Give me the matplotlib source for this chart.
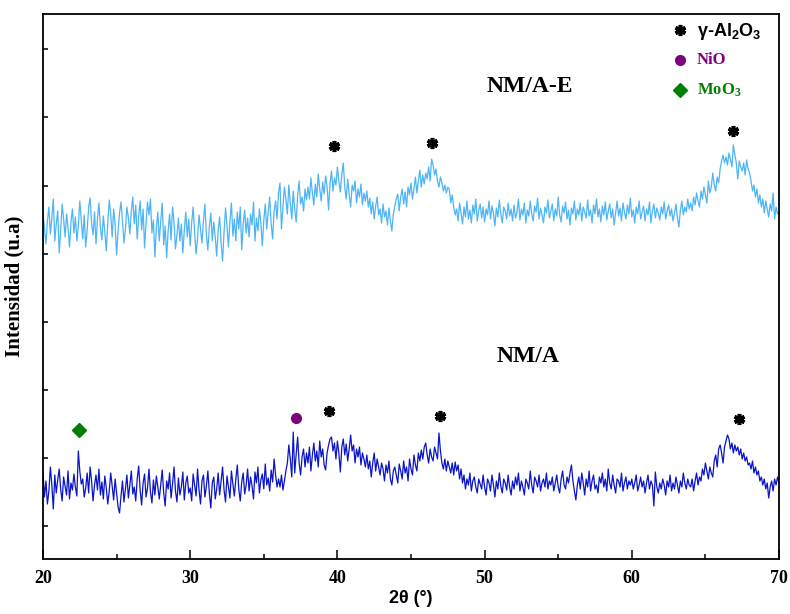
import numpy as np
import matplotlib
matplotlib.use("Agg")
import matplotlib.pyplot as plt
from matplotlib.lines import Line2D

plt.rcParams['mathtext.fontset'] = 'custom'
plt.rcParams['mathtext.rm'] = 'Liberation Sans:bold'
plt.rcParams['mathtext.bf'] = 'Liberation Serif:bold'
plt.rcParams['mathtext.it'] = 'Liberation Sans:bold'

# ---------------- data ----------------
two_theta = np.round(np.arange(20.0, 70.0001, 0.1), 1)

nma_e = [
    346, 330, 315, 338, 352, 325, 341, 360, 318, 335, 348, 306, 328, 355, 340, 322, 345, 331, 312, 337,
    350, 326, 342, 318, 333, 358, 339, 320, 344, 312, 329, 352, 361, 336, 324, 347, 315, 340, 356, 331,
    319, 343, 327, 308, 336, 359, 345, 322, 350, 334, 304, 328, 346, 357, 338, 316, 330, 352, 341, 325,
    348, 362, 335, 354, 320, 343, 358, 329, 350, 311, 336, 357, 344, 360, 326, 339, 302, 331, 347, 318,
    338, 356, 314, 333, 301, 328, 345, 319, 352, 337, 310, 324, 341, 318, 335, 306, 329, 347, 322, 340,
    313, 336, 352, 327, 305, 321, 344, 330, 316, 338, 355, 324, 309, 332, 346, 318, 337, 322, 303, 329,
    342, 316, 298, 327, 351, 334, 312, 338, 356, 323, 340, 318, 347, 330, 352, 309, 335, 349, 326, 341,
    322, 345, 334, 357, 318, 341, 328, 350, 336, 313, 339, 355, 330, 347, 362, 335, 320, 348, 358, 340,
    366, 376, 330, 352, 372, 360, 345, 374, 356, 340, 368, 350, 337, 364, 378, 355, 362, 348, 370, 359,
    372, 360, 381, 366, 354, 375, 362, 385, 370, 358, 377, 365, 383, 372, 349, 376, 388, 368, 381, 374,
    392, 378, 367, 385, 396, 372, 360, 380, 365, 352, 374, 368, 378, 356, 370, 362, 375, 354, 366, 358,
    368, 352, 361, 345, 357, 340, 353, 362, 344, 350, 336, 355, 342, 348, 334, 351, 338, 328, 345, 353,
    360, 365, 348, 362, 370, 355, 367, 352, 372, 364, 376, 360, 370, 382, 366, 378, 389, 372, 384, 375,
    386, 380, 392, 378, 400, 394, 384, 390, 378, 372, 382, 376, 368, 374, 366, 372, 370, 356, 364, 352,
    344, 350, 338, 356, 346, 335, 352, 342, 358, 340, 349, 336, 354, 345, 360, 338, 348, 355, 341, 352,
    337, 350, 344, 358, 340, 353, 346, 333, 351, 342, 359, 345, 336, 352, 348, 340, 356, 343, 350, 338,
    354, 341, 347, 360, 339, 350, 344, 356, 336, 349, 343, 358, 345, 338, 353, 347, 361, 340, 351, 344,
    336, 352, 346, 359, 341, 348, 355, 338, 350, 343, 362, 344, 337, 353, 346, 357, 340, 349, 334, 351,
    345, 358, 339, 350, 344, 356, 338, 352, 347, 341, 359, 343, 349, 336, 354, 345, 360, 342, 350, 337,
    353, 344, 357, 339, 348, 355, 341, 350, 334, 346, 358, 343, 351, 338, 356, 347, 340, 354, 345, 361,
    342, 349, 336, 352, 345, 358, 340, 347, 353, 338, 350, 344, 357, 336, 348, 355, 341, 351, 346, 339,
    352, 345, 357, 340, 348, 354, 343, 350, 338, 346, 355, 341, 332, 349, 358, 344, 352, 347, 360, 350,
    356, 348, 362, 354, 366, 358, 352, 368, 360, 372, 364, 356, 378, 366, 372, 386, 374, 368, 382, 376,
    390, 398, 404, 396, 402, 394, 406, 400, 392, 414, 404, 396, 380, 398, 392, 388, 396, 384, 399, 390,
    386, 378, 368, 374, 362, 370, 356, 364, 352, 360, 346, 358, 350, 342, 355, 348, 366, 340, 352, 345,
    348,
]

nma = [
    86, 62, 78, 55, 68, 92, 74, 50, 84, 66, 79, 90, 70, 58, 82, 73, 64, 88, 60, 76,
    69, 85, 72, 63, 108, 88, 75, 80, 62, 71, 86, 66, 92, 78, 58, 74, 84, 69, 90, 64,
    77, 60, 83, 71, 55, 68, 86, 73, 59, 80, 66, 52, 46, 63, 78, 57, 70, 84, 61, 74,
    88, 65, 72, 58, 80, 93, 69, 54, 76, 85, 62, 71, 90, 67, 56, 79, 64, 83, 72, 60,
    74, 89, 66, 53, 78, 70, 86, 61, 75, 92, 68, 57, 81, 64, 72, 87, 59, 76, 83, 66,
    71, 58, 85, 74, 63, 90, 69, 55, 78, 84, 62, 73, 88, 66, 51, 76, 82, 60, 70, 86,
    64, 78, 92, 69, 57, 83, 72, 61, 88, 75, 63, 80, 94, 70, 58, 77, 86, 65, 74, 90,
    68, 82, 73, 60, 87, 76, 92, 66, 79, 85, 70, 95, 74, 81, 68, 89, 77, 100, 84, 72,
    80, 72, 84, 69, 78, 88, 96, 114, 100, 82, 127, 86, 105, 122, 96, 84, 102, 110, 92, 106,
    96, 112, 88, 104, 116, 98, 108, 92, 118, 102, 110, 94, 89, 106, 114, 120, 122, 108, 116, 100,
    118, 106, 87, 112, 120, 104, 115, 98, 110, 124, 108, 114, 96, 110, 102, 112, 94, 106, 100, 92,
    104, 90, 98, 82, 96, 106, 88, 100, 92, 84, 96, 90, 78, 94, 86, 98, 80, 74, 88, 92,
    84, 76, 95, 88, 80, 98, 86, 92, 78, 100, 90, 84, 104, 94, 88, 106, 98, 109, 100, 112,
    116, 104, 96, 110, 102, 98, 112, 106, 100, 126, 108, 96, 90, 100, 88, 98, 92, 86, 96, 84,
    97, 88, 94, 80, 90, 76, 84, 70, 80, 74, 86, 68, 78, 82, 72, 66, 80, 75, 70, 84,
    72, 64, 80, 76, 68, 84, 74, 62, 78, 70, 86, 73, 66, 80, 76, 69, 84, 72, 64, 78,
    70, 82, 74, 86, 68, 78, 72, 64, 80, 76, 70, 88, 74, 66, 82, 78, 72, 84, 68, 76,
    80, 72, 86, 70, 78, 74, 82, 68, 76, 84, 72, 66, 80, 88, 74, 70, 82, 76, 86, 94,
    78, 68, 59, 74, 82, 70, 86, 76, 64, 80, 72, 88, 68, 78, 84, 70, 74, 66, 82, 76,
    86, 72, 80, 68, 90, 76, 70, 84, 74, 66, 80, 78, 72, 86, 68, 76, 82, 70, 78, 74,
    80, 70, 76, 84, 68, 74, 82, 72, 78, 66, 76, 84, 70, 78, 74, 53, 87, 72, 66, 76,
    70, 80, 74, 64, 78, 72, 84, 68, 76, 70, 82, 74, 66, 78, 72, 86, 76, 70, 80, 74,
    72, 80, 68, 78, 86, 74, 82, 78, 90, 84, 96, 88, 80, 92, 86, 82, 98, 104, 92, 110,
    114, 106, 96, 112, 118, 124, 120, 110, 116, 106, 114, 108, 112, 104, 110, 100, 106, 98, 102, 94,
    96, 90, 98, 86, 92, 84, 88, 78, 82, 74, 80, 70, 76, 61, 72, 78, 68, 80, 74, 82,
    76,
]

# phase markers (2theta position, marker height)
e_al2o3_x = [39.8, 46.4, 66.9]
e_al2o3_y = [413, 416, 428]
a_al2o3_x = [39.4, 47.0, 67.3]
a_al2o3_y = [148, 143, 140]
a_nio_x = [37.2]
a_nio_y = [141]
a_moo3_x = [22.45]
a_moo3_y = [129]

series_labels = ["NM/A-E", "NM/A"]
label_pos_x = [53.1, 52.95]
label_pos_y = [473, 202]

x_ticks = [20, 30, 40, 50, 60, 70]

# ---------------- figure ----------------
c_light = '#4db5f7'
c_dark = '#0a14c8'
c_purple = '#800080'
c_green = '#008000'

fig = plt.figure(figsize=(7.9, 6.14), dpi=100)
ax = fig.add_axes([43/790, 55/614, 736/790, 545/614])

ax.plot(two_theta, nma_e, color=c_light, lw=0.9)
ax.plot(two_theta, nma, color=c_dark, lw=0.9)

star_kw = dict(marker=(6, 2, 0), color='black', markersize=8, markeredgewidth=2.6, linestyle='none')
ax.plot(e_al2o3_x, e_al2o3_y, **star_kw)
ax.plot(a_al2o3_x, a_al2o3_y, **star_kw)
ax.plot(a_nio_x, a_nio_y, marker='o', color=c_purple, markersize=7, linestyle='none')
ax.plot(a_moo3_x, a_moo3_y, marker='D', color=c_green, markersize=7.5, linestyle='none')

for lab, lx, ly in zip(series_labels, label_pos_x, label_pos_y):
    ax.text(lx, ly, lab, ha='center', va='center', fontsize=17,
            fontweight='bold', family='Liberation Serif')

ax.set_xlim(20, 70)
ax.set_ylim(0, 545)
ax.set_xticks(x_ticks)
ax.set_xticks(np.arange(25, 70, 10), minor=True)
ax.set_yticks(33 + 68.1 * np.arange(8))
ax.set_yticklabels([])
ax.tick_params(axis='x', which='major', direction='in', length=6.5, width=1.1, pad=8)
ax.tick_params(axis='x', which='minor', direction='in', length=3.5, width=1.1)
ax.tick_params(axis='y', which='major', direction='in', length=3.5, width=1.1)
for lbl in ax.get_xticklabels():
    lbl.set_fontfamily('Liberation Serif')
    lbl.set_fontweight('bold')
    lbl.set_fontsize(13)
for sp in ax.spines.values():
    sp.set_linewidth(1.3)

ax.set_xlabel('2θ (°)', fontsize=13, fontweight='bold', family='Liberation Sans', labelpad=2)
ax.set_ylabel('Intensidad (u.a)', fontsize=15, fontweight='bold', family='Liberation Serif', labelpad=10)

# legend (manual)
lx_m, lx_t = (680 - 43) / 736, (697 - 43) / 736
rows_y = [(559 - 32) / 545, (559 - 60) / 545, (559 - 90) / 545]
ax.plot([lx_m], [rows_y[0] + 0.004], transform=ax.transAxes, clip_on=False, **star_kw)
ax.plot([lx_m], [rows_y[1]], transform=ax.transAxes, clip_on=False,
        marker='o', color=c_purple, markersize=7, linestyle='none')
ax.plot([lx_m], [rows_y[2]], transform=ax.transAxes, clip_on=False,
        marker='D', color=c_green, markersize=7.5, linestyle='none')
ax.text(lx_t, rows_y[0], 'γ-Al$_{2}$O$_{3}$', transform=ax.transAxes, ha='left', va='center',
        fontsize=13, fontweight='bold', family='Liberation Sans', color='black')
ax.text(lx_t, rows_y[1], 'NiO', transform=ax.transAxes, ha='left', va='center',
        fontsize=12, fontweight='bold', family='Liberation Serif', color=c_purple)
ax.text(lx_t, rows_y[2], r'MoO$_{\mathbf{3}}$', transform=ax.transAxes, ha='left', va='center',
        fontsize=12, fontweight='bold', family='Liberation Serif', color=c_green)

fig.savefig('out.png', dpi=100)
